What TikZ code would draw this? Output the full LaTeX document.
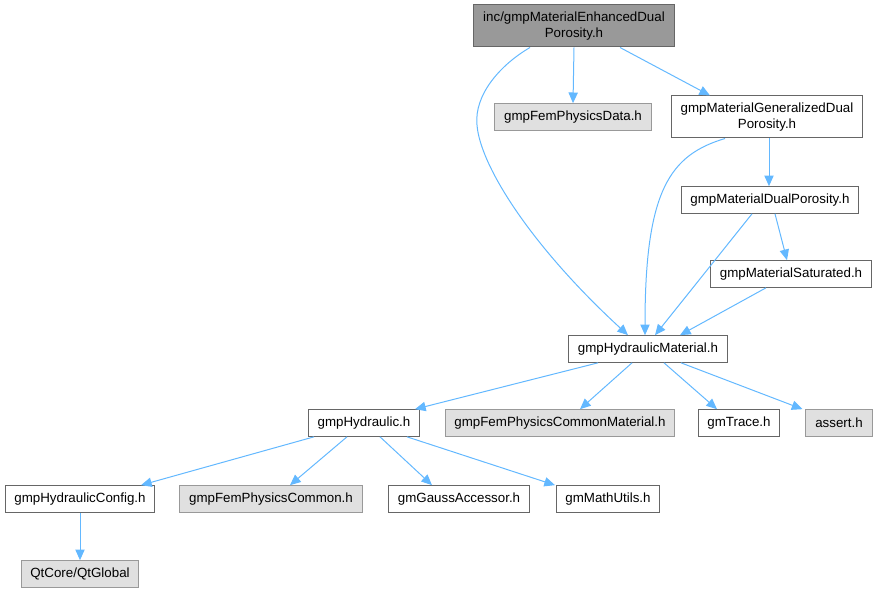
\documentclass[tikz,border=0pt]{standalone}
\usepackage{fontspec}
\setmainfont{Liberation Sans}
\usetikzlibrary{calc,arrows.meta}
\definecolor{edgeblue}{HTML}{63B8FF}
\definecolor{boxline}{HTML}{666666}
\definecolor{extline}{HTML}{999999}
\definecolor{extfill}{HTML}{E0E0E0}
\definecolor{rootfill}{HTML}{999999}

\begin{document}
\begin{tikzpicture}[x=0.75pt,y=-0.75pt,
    file/.style={draw=boxline,fill=white,line width=0.75pt,minimum height=20pt,
      inner xsep=7pt,inner ysep=0pt,font=\fontsize{10}{12}\selectfont},
    ext/.style={file,draw=extline,fill=extfill},
    root/.style={file,fill=rootfill,align=center,minimum height=31.5pt},
    twoline/.style={file,align=center,minimum height=31.5pt},
    dep/.style={-{Triangle[length=8pt,width=7pt]},edgeblue,line width=0.75pt}]
  \useasboundingbox (0,0) rectangle (879,592);
  % nodes
  \node[root] (top) at (574,26) {inc/gmpMaterialEnhancedDual\\Porosity.h};
  \node[ext] (data) at (573,117) {gmpFemPhysicsData.h};
  \node[twoline] (gen) at (767,117) {gmpMaterialGeneralizedDual\\Porosity.h};
  \node[file] (dual) at (770,200) {gmpMaterialDualPorosity.h};
  \node[file] (sat) at (791,274) {gmpMaterialSaturated.h};
  \node[file] (hm) at (648,349) {gmpHydraulicMaterial.h};
  \node[file] (hyd) at (364,423) {gmpHydraulic.h};
  \node[ext] (fpcm) at (560,423) {gmpFemPhysicsCommonMaterial.h};
  \node[file] (trace) at (739,423) {gmTrace.h};
  \node[ext] (assert) at (839,423) {assert.h};
  \node[file] (cfg) at (80,499) {gmpHydraulicConfig.h};
  \node[ext] (fpc) at (271,499) {gmpFemPhysicsCommon.h};
  \node[file] (gauss) at (459,499) {gmGaussAccessor.h};
  \node[file] (math) at (608,499) {gmMathUtils.h};
  \node[ext] (qt) at (80,574) {QtCore/QtGlobal};
  % edges
  \draw[dep] ($(top.south)+(-44,0)$) .. controls (500,65) and (474,95) .. (477,125)
    .. controls (480,165) and (530,245) .. ($(hm.north)+(-20,0)$);
  \draw[dep] (top.south) -- (data.north);
  \draw[dep] ($(top.south)+(46,0)$) -- ($(gen.north)+(-57,0)$);
  \draw[dep] ($(gen.south)+(-42,0)$) .. controls (670,155) and (645,190) .. ($(hm.north)+(-3,0)$);
  \draw[dep] ($(gen.south)+(2,0)$) -- ($(dual.north)+(-1,0)$);
  \draw[dep] ($(dual.south)+(-18,0)$) -- ($(hm.north)+(7,0)$);
  \draw[dep] ($(dual.south)+(5,0)$) -- ($(sat.north)+(-4,0)$);
  \draw[dep] ($(sat.south)+(-25,0)$) -- ($(hm.north)+(32,0)$);
  \draw[dep] ($(hm.south)+(-50,0)$) -- ($(hyd.north)+(51,0)$);
  \draw[dep] ($(hm.south)+(-16,0)$) -- ($(fpcm.north)+(20,0)$);
  \draw[dep] ($(hm.south)+(16,0)$) -- ($(trace.north)+(-22,0)$);
  \draw[dep] ($(hm.south)+(33,0)$) -- ($(assert.north west)+(-3,0)$);
  \draw[dep] ($(hyd.south)+(-50,0)$) -- ($(cfg.north)+(61,0)$);
  \draw[dep] ($(hyd.south)+(-17,0)$) -- ($(fpc.north)+(19,0)$);
  \draw[dep] ($(hyd.south)+(16,0)$) -- ($(gauss.north)+(-27,0)$);
  \draw[dep] ($(hyd.south)+(43,0)$) -- ($(math.north)+(-53,0)$);
  \draw[dep] (cfg.south) -- (qt.north);
\end{tikzpicture}
\end{document}
